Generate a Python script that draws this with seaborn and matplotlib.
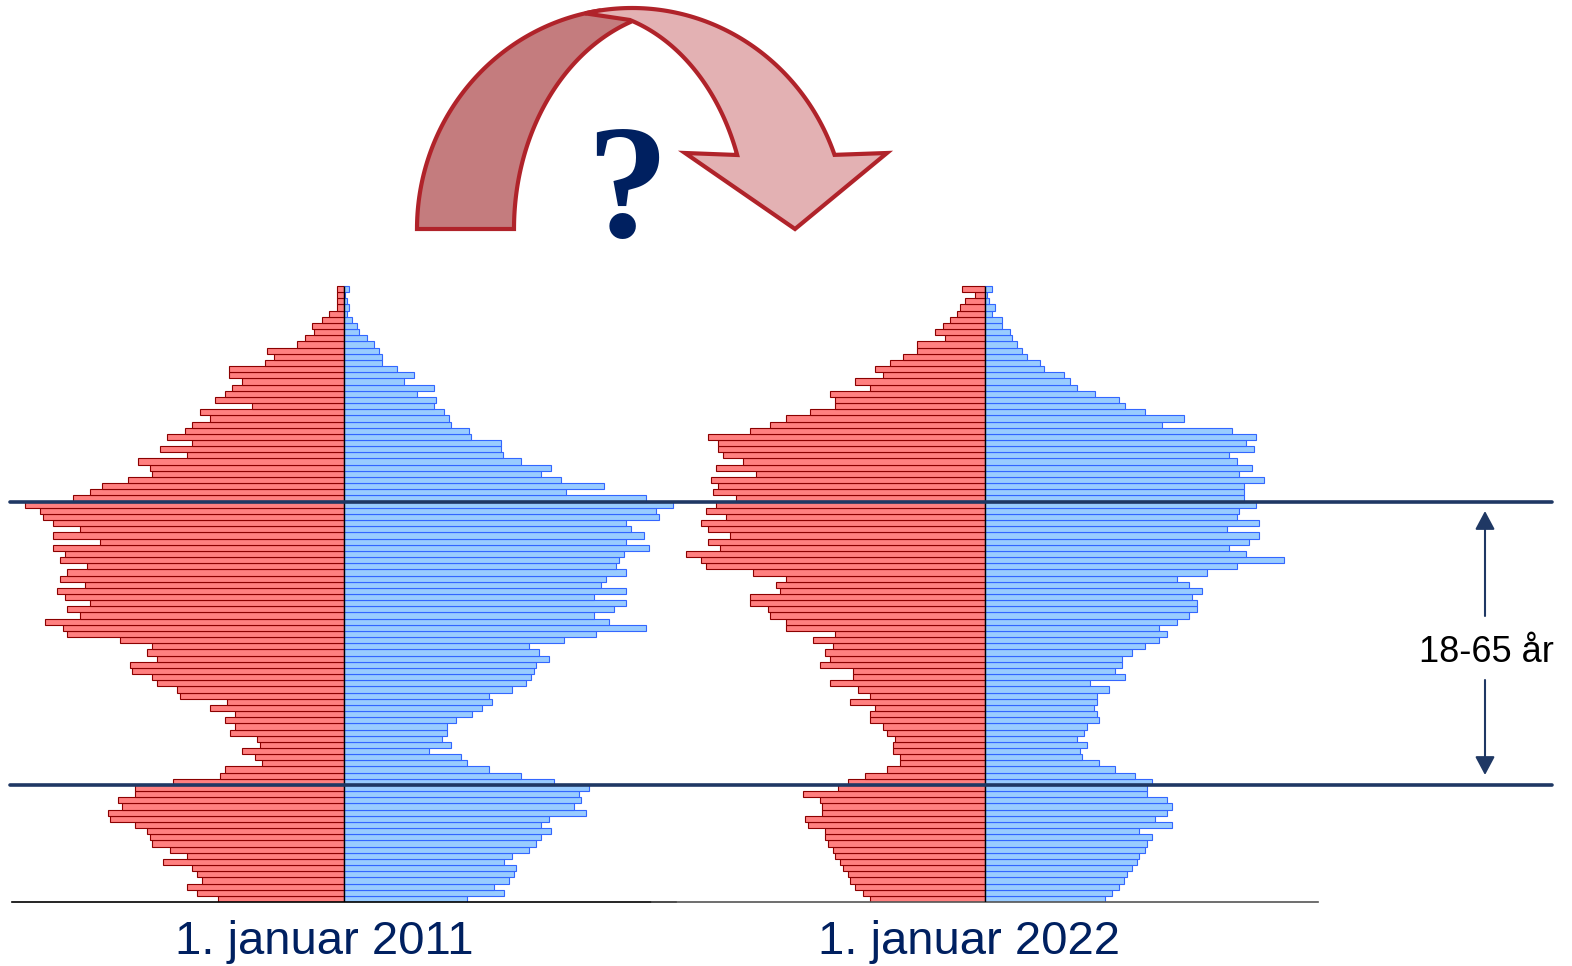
import numpy as np
import pandas as pd
import matplotlib
matplotlib.use("Agg")
import matplotlib.pyplot as plt
from matplotlib.patches import Polygon
import seaborn as sns

# one bar per age, 0..99 (values in picture units, left = red, right = blue)
ages = list(range(100))

women_2011 = [126, 147, 157, 142, 147, 152, 181, 157, 174, 192,
              194, 197, 209, 234, 236, 222, 226, 209, 209, 171,
              124, 119, 82, 89, 102, 84, 87, 114, 109, 119,
              109, 134, 117, 164, 167, 187, 192, 212, 214, 187,
              197, 192, 224, 277, 281, 299, 264, 277, 254, 279,
              287, 259, 284, 277, 257, 284, 279, 291, 244, 291,
              264, 291, 301, 304, 319, 271, 254, 242, 216, 192,
              194, 206, 157, 184, 152, 177, 159, 152, 134, 144,
              92, 129, 119, 112, 102, 115, 115, 79, 70, 77,
              47, 39, 30, 32, 22, 15, 7, 7, 7, 7]
men_2011 = [123, 160, 150, 165, 170, 172, 160, 168, 185, 192,
            197, 207, 197, 205, 242, 230, 237, 235, 245, 210,
            177, 145, 123, 117, 85, 107, 98, 103, 103, 112,
            128, 138, 148, 145, 168, 182, 187, 190, 192, 205,
            195, 185, 220, 252, 302, 265, 250, 270, 282, 250,
            282, 257, 262, 282, 272, 275, 280, 305, 282, 300,
            287, 282, 315, 312, 329, 302, 222, 260, 217, 197,
            207, 177, 159, 157, 157, 127, 125, 107, 105, 100,
            90, 92, 73, 90, 60, 70, 53, 38, 38, 35,
            30, 23, 15, 13, 8, 3, 5, 3, 1, 5]
women_2022 = [115, 122, 130, 135, 137, 142, 145, 150, 152, 157,
              160, 160, 177, 180, 163, 163, 165, 182, 147, 137,
              120, 98, 85, 85, 92, 92, 90, 98, 102, 115,
              115, 110, 135, 115, 127, 155, 132, 132, 165, 155,
              160, 152, 172, 150, 199, 199, 215, 217, 235, 235,
              205, 209, 199, 232, 279, 284, 299, 265, 277, 255,
              277, 284, 259, 279, 269, 249, 272, 267, 274, 229,
              269, 242, 262, 267, 267, 277, 235, 215, 199, 175,
              150, 150, 155, 115, 130, 102, 110, 95, 82, 68,
              68, 40, 50, 42, 35, 28, 25, 20, 10, 23]
men_2022 = [120, 127, 134, 139, 142, 147, 152, 154, 160, 162,
            167, 154, 187, 170, 182, 187, 182, 162, 162, 167,
            150, 130, 114, 97, 95, 102, 92, 99, 102, 114,
            112, 109, 112, 112, 124, 105, 140, 130, 137, 137,
            147, 160, 174, 182, 174, 192, 204, 212, 212, 207,
            217, 204, 192, 222, 252, 299, 261, 244, 264, 274,
            242, 274, 252, 254, 271, 259, 259, 259, 279, 254,
            267, 252, 244, 269, 261, 271, 247, 177, 199, 160,
            140, 134, 110, 92, 85, 79, 59, 55, 42, 37,
            32, 27, 25, 17, 17, 7, 10, 4, 2, 7]

years = ["1. januar 2011", "1. januar 2022"]
age_lines = [18.5, 64.5]
band_label = "18-65 år"

W, H = 1572, 966
navy = "#1F3864"
text_navy = "#002060"

sns.set_style("white")
plt.rcParams["font.family"] = ["Liberation Sans", "DejaVu Sans"]

fig = plt.figure(figsize=(W / 100, H / 100), dpi=100)


def px_box(x0, x1, y_top, y_bot):
    return [x0 / W, 1 - y_bot / H, (x1 - x0) / W, (y_bot - y_top) / H]


pitch = 6.16
y_bot = 902
y_top = y_bot - 101 * pitch


def pyramid(ax, women, men, half, spine_color):
    df = pd.DataFrame({"age": ages, "women": -np.array(women), "men": men})
    sns.barplot(data=df, x="women", y="age", orient="y", native_scale=True,
                width=1.0, color="#FF8080", edgecolor="#8B0000", linewidth=0.8,
                saturation=1, errorbar=None, ax=ax)
    sns.barplot(data=df, x="men", y="age", orient="y", native_scale=True,
                width=1.0, color="#99CCFF", edgecolor="#3366FF", linewidth=0.8,
                saturation=1, errorbar=None, ax=ax)
    ax.vlines(0, -0.5, 99.5, color="black", lw=1, zorder=4)
    ax.set_xlim(-half, half)
    ax.set_ylim(-0.5, 100.5)
    ax.set_xticks([])
    ax.set_yticks([])
    ax.set_xlabel("")
    ax.set_ylabel("")
    for s in ("left", "right", "top"):
        ax.spines[s].set_visible(False)
    ax.spines["bottom"].set_color(spine_color)
    ax.spines["bottom"].set_linewidth(1.2)
    ax.patch.set_alpha(0)


ax1 = fig.add_axes(px_box(12, 676, y_top, y_bot))
pyramid(ax1, women_2011, men_2011, 332, "black")

x0, x1 = 652, 1318
ax2 = fig.add_axes(px_box(x0, x1, y_top, y_bot))
pyramid(ax2, women_2022, men_2022, 333, "#555555")

# age band lines across the whole picture
for a in age_lines:
    ax2.axhline(a, xmin=(10 - x0) / (x1 - x0), xmax=(1552 - x0) / (x1 - x0),
                color=navy, lw=2.6, clip_on=False, zorder=6)

# overlay in pixel coordinates for the decorations
ov = fig.add_axes([0, 0, 1, 1])
ov.set_xlim(0, W)
ov.set_ylim(H, 0)
ov.axis("off")
ov.patch.set_alpha(0)


def ell(cx, cy, a, b, t0, t1, n=80):
    t = np.radians(np.linspace(t0, t1, n))
    return np.column_stack([cx + a * np.cos(t), cy - b * np.sin(t)])


dark = np.vstack([ell(632, 229, 215, 221, 180, 98.6), [[630, 20]],
                  ell(690, 229, 176, 220, 109.9, 180)])
light = np.vstack([[[630, 20]], ell(632, 229, 215, 221, 102.6, 19.6),
                   [[887, 153], [795, 229], [685, 153]],
                   ell(580, 229, 167, 219, 19.75, 72.5)])
ov.add_patch(Polygon(dark, closed=True, facecolor="#C47C7E", edgecolor="#B0232A",
                     lw=3, joinstyle="miter"))
ov.add_patch(Polygon(light, closed=True, facecolor="#E3B1B3", edgecolor="#B0232A",
                     lw=3, joinstyle="miter"))
ov.text(627, 237, "?", fontsize=118, family=["Liberation Serif", "DejaVu Serif"],
        weight="bold", color=text_navy, ha="center", va="baseline")

# year labels
ov.text(324, 954, years[0], fontsize=34, color=text_navy, ha="center", va="baseline")
ov.text(969, 954, years[1], fontsize=34, color=text_navy, ha="center", va="baseline")

# 18-65 band annotation
arrow = dict(arrowstyle="-|>,head_length=0.75,head_width=0.4", color=navy, lw=1.5,
             shrinkA=0, shrinkB=0, mutation_scale=15)
ov.annotate("", xy=(1485, 511), xytext=(1485, 616), arrowprops=arrow)
ov.annotate("", xy=(1485, 775), xytext=(1485, 680), arrowprops=arrow)
ov.text(1486, 662, band_label, fontsize=26, color="black", ha="center", va="baseline")

fig.savefig("out.png", dpi=100)
